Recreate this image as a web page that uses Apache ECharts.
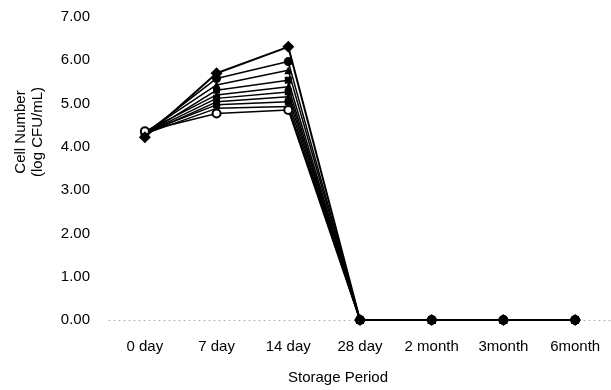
<!DOCTYPE html>
<html><head><meta charset="utf-8">
<script src="https://cdn.jsdelivr.net/npm/echarts@6/dist/echarts.min.js"></script>
<style>html,body{margin:0;padding:0;background:#fff}#c{width:611px;height:390px}</style>
</head><body><div id="c"></div>
<script>
var categories = ['0 day','7 day','14 day','28 day','2 month','3month','6month'];
var s1 = [4.22, 5.70, 6.31, 0, 0, 0, 0];
var s2 = [4.30, 5.58, 5.97, 0, 0, 0, 0];
var s3 = [4.33, 5.43, 5.77, 0, 0, 0, 0];
var s4 = [4.28, 5.31, 5.54, 0, 0, 0, 0];
var s5 = [4.35, 5.20, 5.39, 0, 0, 0, 0];
var s6 = [4.31, 5.12, 5.27, 0, 0, 0, 0];
var s7 = [4.29, 5.04, 5.16, 0, 0, 0, 0];
var s8 = [4.33, 4.97, 5.04, 0, 0, 0, 0];
var s9 = [4.30, 4.89, 4.93, 0, 0, 0, 0];
var s10 = [4.36, 4.77, 4.85, 0, 0, 0, 0];
var xName = 'Storage Period';
var yName = 'Cell Number\n(log CFU/mL)';

var allSeries = [s9, s8, s7, s6, s5, s4, s3, s2, s10, s1];
var symbols = ['triangle','rect','triangle','rect','triangle','rect','triangle','circle','emptyCircle','diamond'];
var sizes = [8, 7, 8, 7, 8, 7, 8, 9, 8, 12];
var font = '"Liberation Sans", Arial, sans-serif';

var chart = echarts.init(document.getElementById('c'), null, {renderer:'canvas'});
chart.setOption({
  animation: false,
  backgroundColor: '#fff',
  grid: {left: 109, top: 17, right: -6, bottom: 70},
  xAxis: {
    type: 'category', data: categories, boundaryGap: true,
    axisLine: {show: true, lineStyle: {color: '#b0b0b0', type: [1, 4], width: 1}},
    axisTick: {show: false},
    axisLabel: {color: '#000', fontSize: 15, fontFamily: font, margin: 19}
  },
  yAxis: {
    type: 'value', min: 0, max: 7, interval: 1,
    axisLine: {show: false}, axisTick: {show: false}, splitLine: {show: false},
    axisLabel: {color: '#000', fontSize: 15, fontFamily: font, margin: 19,
      formatter: function(v){ return v.toFixed(2); }}
  },
  graphic: [
    {type: 'text', x: 338, y: 378, style: {text: xName, fill: '#000', font: '15px ' + font, textAlign: 'center', textVerticalAlign: 'middle'}},
    {type: 'text', rotation: Math.PI / 2, x: 29, y: 132, style: {text: yName, fill: '#000', font: '15px ' + font, textAlign: 'center', textVerticalAlign: 'middle', lineHeight: 17}}
  ],
  series: allSeries.map(function(d, i){
    var empty = symbols[i] === 'emptyCircle';
    return {
      type: 'line', data: d, symbol: symbols[i], symbolSize: sizes[i],
      showAllSymbol: true,
      lineStyle: {color: '#000', width: i === 9 ? 2 : 1.5},
      itemStyle: empty ? {color: '#000', borderColor: '#000', borderWidth: 1.5} : {color: '#000'},
      z: 2 + i
    };
  })
});
</script></body></html>
